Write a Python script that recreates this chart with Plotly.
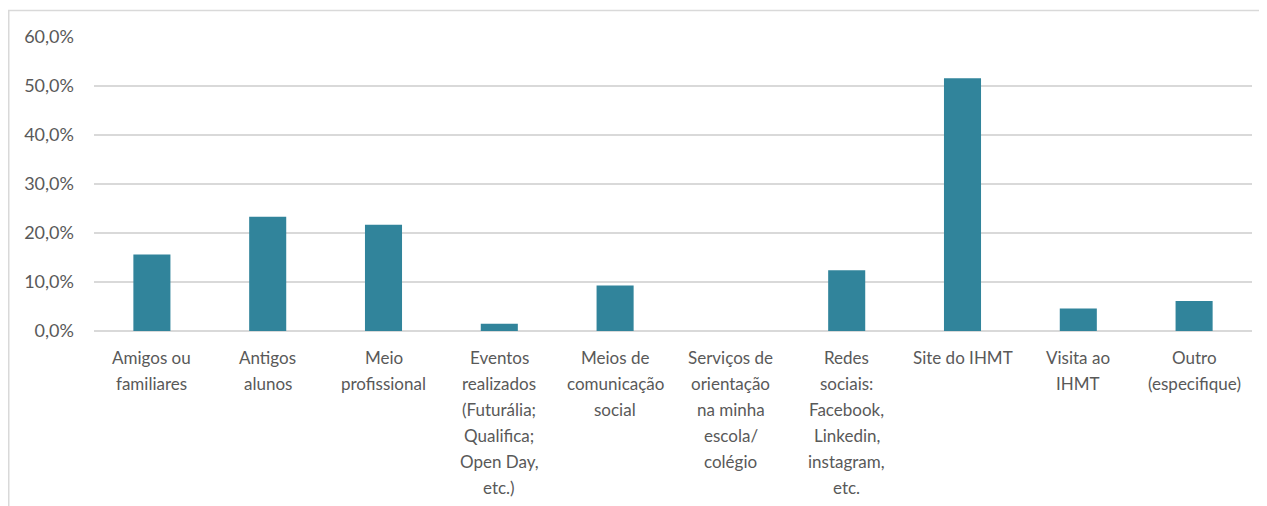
import plotly.graph_objects as go

categories = [
    "Amigos ou<br>familiares",
    "Antigos<br>alunos",
    "Meio<br>profissional",
    "Eventos<br>realizados<br>(Futurália;<br>Qualifica;<br>Open Day,<br>etc.)",
    "Meios de<br>comunicação<br>social",
    "Serviços de<br>orientação<br>na minha<br>escola/<br>colégio",
    "Redes<br>sociais:<br>Facebook,<br>Linkedin,<br>instagram,<br>etc.",
    "Site do IHMT",
    "Visita ao<br>IHMT",
    "Outro<br>(especifique)",
]
values = [15.6, 23.3, 21.7, 1.5, 9.3, 0.0, 12.4, 51.6, 4.6, 6.1]
y_ticks = [0, 10, 20, 30, 40, 50, 60]
y_tick_labels = ["0,0%", "10,0%", "20,0%", "30,0%", "40,0%", "50,0%", "60,0%"]

BAR = "#31849B"
GRID = "#D9D9D9"
TXT = "#595959"
FONT = "Lato, Carlito, Calibri, sans-serif"

x_idx = list(range(len(categories)))

fig = go.Figure(
    go.Bar(
        x=x_idx,
        y=values,
        marker=dict(color=BAR, line=dict(width=0)),
        width=0.32,
        hovertext=[c.replace("<br>", " ") for c in categories],
    )
)

# page has an 8px body margin; plot area in page coords: x 94..1252, y 37..331
W, H = 1259, 498
L, T = 86, 29
pw, ph = 1158, 294
R = W - L - pw
B = H - T - ph

# category labels, one annotation per line for Excel-like line spacing
annotations = []
for i, cat in enumerate(categories):
    for j, line in enumerate(cat.split("<br>")):
        annotations.append(
            dict(
                x=i,
                y=0,
                xref="x",
                yref="y",
                text=line,
                showarrow=False,
                xanchor="center",
                yanchor="middle",
                yshift=-(26 + 26 * j),
                font=dict(family=FONT, color=TXT, size=17),
            )
        )

fig.update_layout(
    width=W,
    height=H,
    margin=dict(l=L, r=R, t=T, b=B, autoexpand=False),
    paper_bgcolor="white",
    plot_bgcolor="white",
    showlegend=False,
    font=dict(family=FONT, color=TXT, size=17),
    xaxis=dict(
        range=[-0.5, len(categories) - 0.5],
        showgrid=False,
        showline=False,
        zeroline=False,
        ticks="",
        showticklabels=False,
    ),
    yaxis=dict(
        range=[0, 60],
        tickmode="array",
        tickvals=y_ticks,
        ticktext=y_tick_labels,
        showgrid=True,
        gridcolor=GRID,
        gridwidth=1.5,
        zeroline=True,
        zerolinecolor=GRID,
        zerolinewidth=1.5,
        showline=False,
        ticks="",
        ticklabelstandoff=19,
        tickfont=dict(family=FONT, color=TXT, size=18),
    ),
    annotations=annotations,
    shapes=[
        dict(
            type="rect",
            xref="paper",
            yref="paper",
            x0=(0.75 - L) / pw,
            x1=(W + 20 - L) / pw,
            y0=-(B + 40) / ph,
            y1=(T + ph - 2.5) / ph,
            line=dict(color=GRID, width=1.5),
            fillcolor="rgba(0,0,0,0)",
            layer="below",
        )
    ],
)

fig.write_html("out.html")
